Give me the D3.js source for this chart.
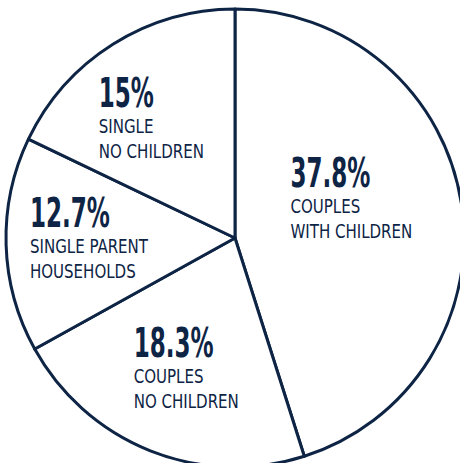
<!DOCTYPE html>
<html>
<head>
<meta charset="utf-8">
<script src="https://cdn.jsdelivr.net/npm/d3@7"></script>
<style>
  body { margin: 0; background: #fff; }
  text { font-family: "DejaVu Sans Condensed", "DejaVu Sans", sans-serif; fill: #0e2445; }
  .big { font-weight: bold; font-size: 40px; }
  .sub { font-size: 19px; }
</style>
</head>
<body>
<div class="chart"></div>
<script>
// slices clockwise from 12 o'clock
const categories = ['COUPLES|WITH CHILDREN', 'COUPLES|NO CHILDREN', 'SINGLE PARENT|HOUSEHOLDS', 'SINGLE|NO CHILDREN'];
const shares = [37.8, 18.3, 12.7, 15];
const shareLabels = ['37.8%', '18.3%', '12.7%', '15%'];

const width = 460, height = 463;
const cx = 235, cy = 238, radius = 229;
const navy = '#0e2445';

const data = categories.map((c, i) => ({name: c, value: shares[i], label: shareLabels[i]}));

const svg = d3.select('.chart').append('svg')
  .attr('width', width)
  .attr('height', height)
  .append('g')
  .attr('transform', `translate(${cx},${cy})`);

const pie = d3.pie().sort(null).value(d => d.value);
const arcs = pie(data);

const arc = d3.arc().innerRadius(0).outerRadius(radius);

svg.selectAll('path')
  .data(arcs)
  .enter()
  .append('path')
  .attr('d', arc)
  .attr('fill', 'white')
  .attr('stroke', navy)
  .attr('stroke-width', 3)
  .attr('stroke-linejoin', 'round');

// label block centred on centroid (r=140), then nudged
const labelArc = d3.arc().innerRadius(140).outerRadius(140);
const nudge = [[-22, -19], [3, 0], [-6, -4], [-9, -2]];

const labels = svg.selectAll('.label')
  .data(arcs)
  .enter()
  .append('g')
  .attr('class', 'label');

labels.each(function(d, i) {
  const g = d3.select(this);
  g.append('text').attr('class', 'big')
    .attr('transform', 'scale(0.64,1)')
    .text(d.data.label);
  d.data.name.split('|').forEach((line, j) => {
    g.append('text').attr('class', 'sub')
      .attr('transform', `translate(0,${26 + j * 25}) scale(0.88,1)`)
      .text(line);
  });
  const bb = this.getBBox();
  const c = labelArc.centroid(d);
  const px = c[0] + nudge[i][0] - bb.width / 2;
  const py = c[1] + nudge[i][1] - 11;
  g.attr('transform', `translate(${px},${py})`);
});
</script>
</body>
</html>
